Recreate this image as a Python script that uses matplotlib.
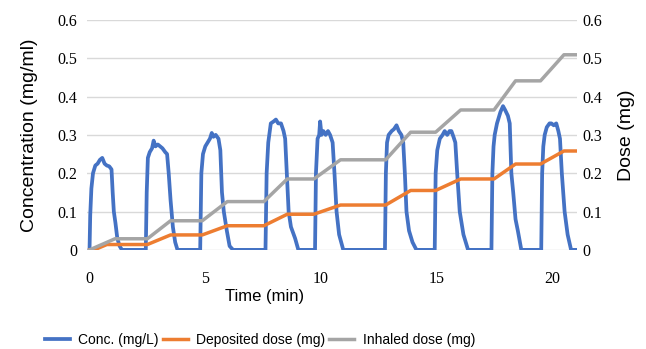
import numpy as np
import matplotlib
matplotlib.use("Agg")
import matplotlib.pyplot as plt

# concentration pulses (time in min, conc in mg/L)
conc_t = [0, 0.03, 0.08, 0.15, 0.25, 0.35, 0.45, 0.55, 0.65, 0.75, 0.85, 0.95, 1.0, 1.05, 1.12, 1.2, 1.3, 1.4,
          2.43, 2.47, 2.52, 2.6, 2.7, 2.77, 2.85, 2.95, 3.05, 3.15, 3.27, 3.35, 3.42, 3.5, 3.6, 3.7, 3.8,
          4.78, 4.83, 4.9, 5.0, 5.1, 5.2, 5.28, 5.35, 5.45, 5.57, 5.65, 5.72, 5.8, 5.93, 6.05, 6.2,
          7.6, 7.65, 7.72, 7.83, 7.95, 8.05, 8.15, 8.27, 8.38, 8.45, 8.52, 8.6, 8.7, 8.88, 9.02,
          9.74, 9.78, 9.85, 9.92, 9.96, 10.02, 10.1, 10.2, 10.3, 10.39, 10.5, 10.58, 10.67, 10.78, 10.96,
          12.76, 12.8, 12.85, 12.92, 13.05, 13.15, 13.26, 13.36, 13.47, 13.55, 13.62, 13.69, 13.8, 13.95, 14.12,
          14.91, 14.95, 15.02, 15.13, 15.25, 15.34, 15.45, 15.55, 15.63, 15.72, 15.8, 15.88, 15.99, 16.15, 16.35,
          17.36, 17.4, 17.45, 17.5, 17.6, 17.75, 17.86, 17.95, 18.07, 18.15, 18.22, 18.3, 18.4, 18.5, 18.65,
          19.51, 19.55, 19.6, 19.66, 19.75, 19.87, 19.95, 20.05, 20.16, 20.25, 20.32, 20.4, 20.52, 20.65, 20.8, 21.0]
conc_v = [0, 0.09, 0.16, 0.2, 0.22, 0.225, 0.235, 0.24, 0.225, 0.22, 0.218, 0.21, 0.15, 0.1, 0.07, 0.03, 0.01, 0,
          0, 0.15, 0.24, 0.255, 0.265, 0.285, 0.27, 0.275, 0.27, 0.265, 0.255, 0.25, 0.2, 0.13, 0.06, 0.02, 0,
          0, 0.2, 0.25, 0.27, 0.28, 0.29, 0.305, 0.295, 0.3, 0.29, 0.26, 0.15, 0.1, 0.05, 0.01, 0,
          0, 0.2, 0.28, 0.33, 0.335, 0.34, 0.33, 0.33, 0.31, 0.29, 0.2, 0.1, 0.06, 0.03, 0,
          0, 0.2, 0.29, 0.3, 0.335, 0.3, 0.31, 0.3, 0.31, 0.3, 0.28, 0.2, 0.1, 0.04, 0,
          0, 0.2, 0.28, 0.3, 0.31, 0.315, 0.325, 0.31, 0.3, 0.28, 0.2, 0.1, 0.05, 0.02, 0,
          0, 0.2, 0.26, 0.29, 0.3, 0.31, 0.3, 0.31, 0.31, 0.295, 0.28, 0.2, 0.1, 0.04, 0,
          0, 0.2, 0.27, 0.3, 0.33, 0.36, 0.375, 0.365, 0.35, 0.33, 0.2, 0.15, 0.08, 0.05, 0,
          0, 0.2, 0.27, 0.3, 0.32, 0.33, 0.33, 0.325, 0.33, 0.31, 0.29, 0.2, 0.1, 0.04, 0, 0]

# cumulative doses (mg)
inh_t = [0, 1.1, 2.5, 3.5, 4.87, 5.95, 7.53, 8.54, 9.69, 10.84, 12.79, 13.87, 14.95, 16.03, 17.47, 18.4, 19.48, 20.49, 21.0]
inhaled = [0, 0.029, 0.029, 0.076, 0.076, 0.126, 0.126, 0.185, 0.185, 0.235, 0.235, 0.307, 0.307, 0.365, 0.365, 0.441, 0.441, 0.509, 0.509]
dep_t = [0, 0.2, 0.75, 2.5, 3.5, 4.87, 5.95, 7.53, 8.54, 9.69, 10.84, 12.79, 13.87, 14.95, 16.03, 17.47, 18.4, 19.48, 20.49, 21.0]
deposited = [0, 0, 0.014, 0.014, 0.039, 0.039, 0.063, 0.063, 0.093, 0.093, 0.117, 0.117, 0.155, 0.155, 0.185, 0.185, 0.224, 0.224, 0.258, 0.258]

yticks = [0, 0.1, 0.2, 0.3, 0.4, 0.5, 0.6]
ylabels = ["0", "0.1", "0.2", "0.3", "0.4", "0.5", "0.6"]
xticks = [0, 5, 10, 15, 20]

fig = plt.figure(figsize=(6.46, 3.49), dpi=100)
ax = fig.add_axes([0.135, 0.284, 0.758, 0.659])
ax.set_xlim(-0.1, 21.05)
ax.set_ylim(0, 0.6)
ax.set_yticks(yticks)
ax.set_yticklabels(ylabels)
ax.set_xticks(xticks)
ax.grid(axis="y", color="#d9d9d9", lw=1)
ax.set_axisbelow(True)
for s in ax.spines.values():
    s.set_visible(False)
ax.tick_params(length=0)
ax.tick_params(axis="y", pad=7)
ax.tick_params(axis="x", pad=15)
for lab in ax.get_xticklabels() + ax.get_yticklabels():
    lab.set_fontfamily("Liberation Serif")
    lab.set_fontsize(11.5)

l1, = ax.plot(conc_t, conc_v, color="#4472C4", lw=2.7, label="Conc. (mg/L)", solid_joinstyle="round")

ax2 = ax.twinx()
ax2.set_ylim(0, 0.6)
ax2.set_yticks(yticks)
ax2.set_yticklabels(ylabels)
for s in ax2.spines.values():
    s.set_visible(False)
ax2.tick_params(length=0, pad=4)
for lab in ax2.get_yticklabels():
    lab.set_fontfamily("Liberation Serif")
    lab.set_fontsize(11.5)
l2, = ax2.plot(dep_t, deposited, color="#ED7D31", lw=2.5, label="Deposited dose (mg)")
l3, = ax2.plot(inh_t, inhaled, color="#A5A5A5", lw=2.5, label="Inhaled dose (mg)")

ax.set_ylabel("Concentration (mg/ml)", fontfamily="Liberation Sans", fontsize=14, labelpad=14)
ax2.set_ylabel("Dose (mg)", fontfamily="Liberation Sans", fontsize=14, labelpad=11)
fig.text(0.41, 1 - 297 / 349, "Time (min)", fontfamily="Liberation Sans", fontsize=12, ha="center", va="center")

fig.legend(handles=[l1, l2, l3], loc="center", bbox_to_anchor=(260 / 646, 1 - 340 / 349), ncol=3, frameon=False,
           prop={"family": "Liberation Sans", "size": 10}, handlelength=1.8, handletextpad=0.6, columnspacing=0.3)

fig.savefig("out.png", dpi=100)
